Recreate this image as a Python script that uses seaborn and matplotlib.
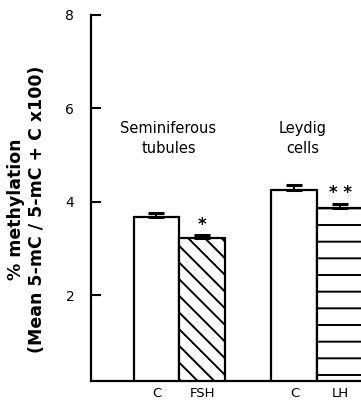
import matplotlib
matplotlib.use("Agg")
import matplotlib.pyplot as plt
import seaborn as sns
import pandas as pd
import numpy as np

# ---- data ----
conditions = ["C_st", "FSH", "C_lc", "LH"]
slot_order = ["C_st", "FSH", "gap", "C_lc", "LH"]
tick_labels = ["C", "FSH", "C", "LH"]
methylation = [3.67, 3.22, 4.26, 3.87]
sem = [0.08, 0.06, 0.09, 0.09]
hatches = ["", "\\\\", "", "-"]
group_labels = ["Seminiferous\ntubules", "Leydig\ncells"]
significance = ["", "*", "", "* *"]

sns.set_theme(style="white")
plt.rcParams["font.family"] = ["DejaVu Sans"]
plt.rcParams["hatch.linewidth"] = 1.4
plt.rcParams["hatch.color"] = "black"

df = pd.DataFrame({"cond": conditions, "meth": methylation})

fig = plt.figure(figsize=(3.61, 4.0), dpi=100)
ax = fig.add_axes([91 / 361, 19 / 400, 270 / 361, 366 / 400])

sns.barplot(data=df, x="cond", y="meth", order=slot_order, width=1.0,
            color="white", edgecolor="black", linewidth=1.6,
            errorbar=None, ax=ax, saturation=1)

# hatches
for bar, h in zip(ax.patches, hatches):
    bar.set_hatch(h)
    bar.set_facecolor("white")
    bar.set_edgecolor("black")

# error bars (upper only)
xpos = [slot_order.index(c) for c in conditions]
ax.errorbar(xpos, methylation, yerr=[np.zeros(len(sem)), sem], fmt="none",
            ecolor="black", elinewidth=1.5, capsize=6, capthick=2.2)

# significance marks
for x, v, e, s in zip(xpos, methylation, sem, significance):
    if s:
        ax.text(x, v + e + 0.22, s, ha="center", va="center",
                fontsize=12, fontweight="bold", color="black")

# group labels
ax.text(0.26, 5.36, group_labels[0], ha="center", va="center",
        fontsize=10.5, linespacing=1.4, color="black")
ax.text(3.17, 5.36, group_labels[1], ha="center", va="center",
        fontsize=10.5, linespacing=1.4, color="black")

ax.set_xlim(-1.424, 4.446)
ax.set_ylim(0.16, 8.0)
ax.set_yticks([2, 4, 6, 8])
ax.set_yticklabels(["2", "4", "6", "8"])
ax.set_xticks(xpos)
ax.set_xticklabels(tick_labels)
ax.tick_params(axis="y", direction="in", length=7.5, width=1.5,
               labelsize=10, pad=12, left=True, colors="black")
ax.tick_params(axis="x", length=0, labelsize=9.5, pad=4, colors="black")
ax.set_xlabel("")
ax.set_ylabel("% methylation\n(Mean 5-mC / 5-mC + C x100)", fontsize=12.5,
              fontweight="bold", linespacing=1.25, color="black", labelpad=14)
ax.yaxis.label.set_y(0.47)

for side in ["top", "right"]:
    ax.spines[side].set_visible(False)
for side in ["left", "bottom"]:
    ax.spines[side].set_color("black")
    ax.spines[side].set_linewidth(1.6)

fig.savefig("out.png", dpi=100, facecolor="white")
